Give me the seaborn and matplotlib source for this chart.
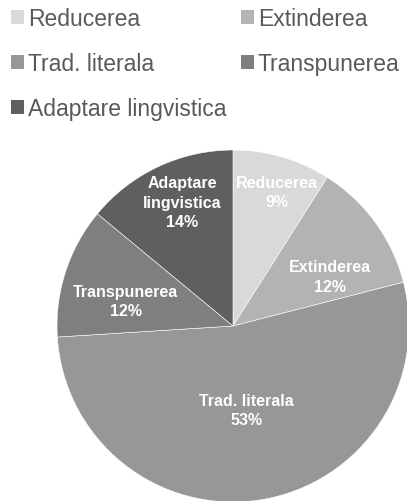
import numpy as np
import pandas as pd
import seaborn as sns
import matplotlib.pyplot as plt
from matplotlib.patches import Patch

# translation strategies and their share (%)
categories = ['Reducerea', 'Extinderea', 'Trad. literala', 'Transpunerea', 'Adaptare lingvistica']
slice_labels = ['Reducerea', 'Extinderea', 'Trad. literala', 'Transpunerea', 'Adaptare\nlingvistica']
shares = [9, 12, 53, 12, 14]

data = pd.DataFrame({'strategy': categories, 'share': shares})

sns.set_theme(style='white')
plt.rcParams['font.family'] = ['Liberation Sans', 'DejaVu Sans']

greys = ['#d9d9d9', '#b3b3b3', '#979797', '#7f7f7f', '#5f5f5f']
# label placement: fraction of radius and clockwise nudge (deg) from the slice middle
label_r = [0.80, 0.62, 0.485, 0.625, 0.76]
label_nudge = [2, 9, 0, -5, 3]

fig = plt.figure(figsize=(4.07, 5.02), dpi=100)
ax = fig.add_axes([57 / 407, -1 / 502, 352 / 407, 352 / 502])

wedges, _ = ax.pie(data['share'], colors=greys, startangle=90, counterclock=False,
                   wedgeprops=dict(edgecolor='white', linewidth=0.4))
ax.set_xlim(-1, 1)
ax.set_ylim(-1, 1)
ax.set_aspect('equal')
ax.axis('off')

for w, lab, pct, r, nd in zip(wedges, slice_labels, data['share'], label_r, label_nudge):
    ang = np.deg2rad((w.theta1 + w.theta2) / 2 - nd)
    ax.text(r * np.cos(ang), r * np.sin(ang), f'{lab}\n{pct}%', ha='center', va='center',
            color='white', fontsize=11.5, fontweight='bold', linespacing=1.35)

# legend in row-major order (two columns)
handles = [Patch(facecolor=c, edgecolor='none') for c in greys]
order = [0, 2, 4, 1, 3]
fig.legend([handles[i] for i in order], [categories[i] for i in order], ncol=2,
           loc='upper left', bbox_to_anchor=(11 / 407, 1 - 8 / 502), frameon=False,
           fontsize=16.5, labelcolor='#595959', handlelength=0.57, handleheight=0.57,
           handletextpad=0.17, columnspacing=0.62, labelspacing=0.97,
           borderpad=0, borderaxespad=0)

fig.savefig('out.png', dpi=100)
